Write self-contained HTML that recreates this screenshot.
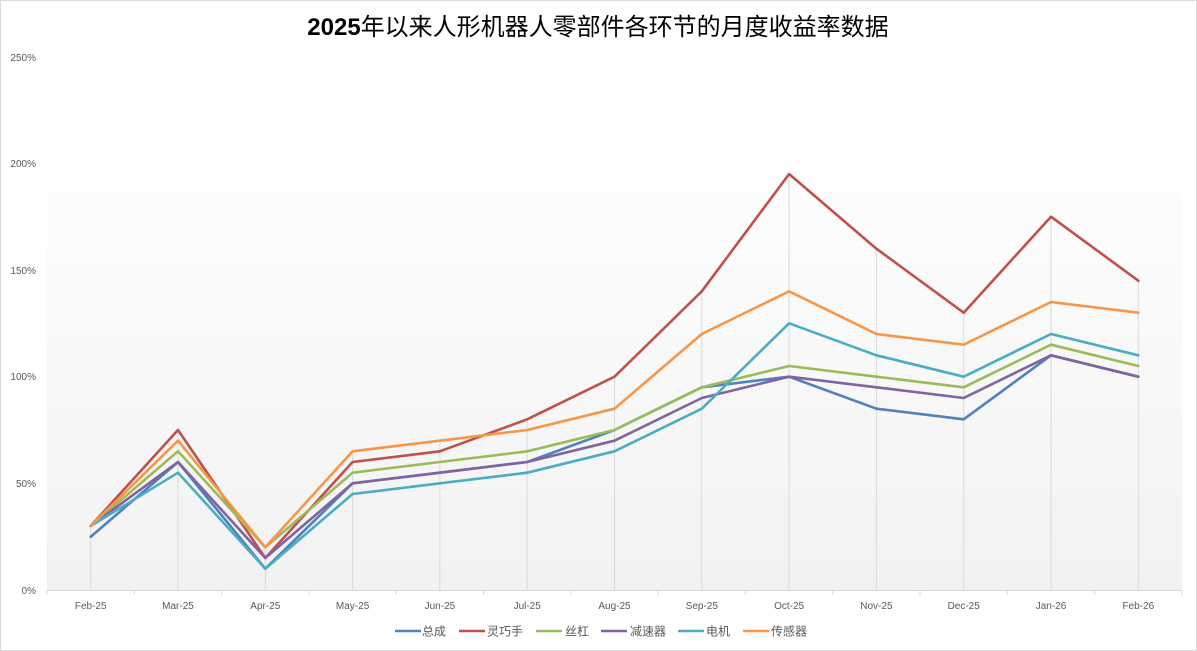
<!DOCTYPE html>
<html><head><meta charset="utf-8"><style>
html,body{margin:0;padding:0;background:#fff;}
svg{display:block;}
text{font-family:"Liberation Sans","Noto Sans CJK SC",sans-serif;}
</style></head><body>
<svg width="1197" height="651" viewBox="0 0 1197 651" xmlns="http://www.w3.org/2000/svg">
<defs>
<linearGradient id="bg" x1="0" y1="0" x2="0" y2="1">
<stop offset="0" stop-color="#ffffff"/>
<stop offset="0.1" stop-color="#ffffff"/>
<stop offset="1" stop-color="#f2f2f2"/>
</linearGradient>
</defs>
<rect x="0.5" y="0.5" width="1196" height="650" fill="#fff" stroke="#d9d9d9"/>
<rect x="47" y="57" width="1135" height="533" fill="url(#bg)"/>
<text x="598" y="35" text-anchor="middle" font-size="24" fill="#000"><tspan font-weight="bold">2025</tspan><tspan font-weight="normal">年以来人形机器人零部件各环节的月度收益率数据</tspan></text>
<g font-size="10" fill="#595959" text-anchor="end">
<text x="36" y="61">250%</text>
<text x="36" y="167">200%</text>
<text x="36" y="274">150%</text>
<text x="36" y="380">100%</text>
<text x="36" y="487">50%</text>
<text x="36" y="594">0%</text>
</g>
<g stroke="#d9d9d9" stroke-width="1">
<line x1="90.7" y1="526" x2="90.7" y2="590"/>
<line x1="178" y1="430" x2="178" y2="590"/>
<line x1="265.3" y1="547.3" x2="265.3" y2="590"/>
<line x1="352.6" y1="451.3" x2="352.6" y2="590"/>
<line x1="439.9" y1="440.7" x2="439.9" y2="590"/>
<line x1="527.2" y1="419.3" x2="527.2" y2="590"/>
<line x1="614.5" y1="376.7" x2="614.5" y2="590"/>
<line x1="701.8" y1="291.3" x2="701.8" y2="590"/>
<line x1="789.1" y1="174" x2="789.1" y2="590"/>
<line x1="876.4" y1="248.7" x2="876.4" y2="590"/>
<line x1="963.7" y1="312.7" x2="963.7" y2="590"/>
<line x1="1051" y1="216.7" x2="1051" y2="590"/>
<line x1="1138.3" y1="280.7" x2="1138.3" y2="590"/>
<line x1="47" y1="590.5" x2="1182" y2="590.5"/>
<line x1="47" y1="590" x2="47" y2="595"/>
<line x1="134.3" y1="590" x2="134.3" y2="595"/>
<line x1="221.6" y1="590" x2="221.6" y2="595"/>
<line x1="308.9" y1="590" x2="308.9" y2="595"/>
<line x1="396.2" y1="590" x2="396.2" y2="595"/>
<line x1="483.5" y1="590" x2="483.5" y2="595"/>
<line x1="570.8" y1="590" x2="570.8" y2="595"/>
<line x1="658.1" y1="590" x2="658.1" y2="595"/>
<line x1="745.4" y1="590" x2="745.4" y2="595"/>
<line x1="832.7" y1="590" x2="832.7" y2="595"/>
<line x1="920" y1="590" x2="920" y2="595"/>
<line x1="1007.3" y1="590" x2="1007.3" y2="595"/>
<line x1="1094.6" y1="590" x2="1094.6" y2="595"/>
<line x1="1181.9" y1="590" x2="1181.9" y2="595"/>
</g>
<g font-size="10" fill="#595959" text-anchor="middle">
<text x="90.7" y="609">Feb-25</text>
<text x="178" y="609">Mar-25</text>
<text x="265.3" y="609">Apr-25</text>
<text x="352.6" y="609">May-25</text>
<text x="439.9" y="609">Jun-25</text>
<text x="527.2" y="609">Jul-25</text>
<text x="614.5" y="609">Aug-25</text>
<text x="701.8" y="609">Sep-25</text>
<text x="789.1" y="609">Oct-25</text>
<text x="876.4" y="609">Nov-25</text>
<text x="963.7" y="609">Dec-25</text>
<text x="1051" y="609">Jan-26</text>
<text x="1138.3" y="609">Feb-26</text>
</g>
<g fill="none" stroke-width="2.6" stroke-linejoin="round" stroke-linecap="round">
<polyline stroke="#4f81bd" points="90.7,536.7 178,462 265.3,568.7 352.6,483.3 439.9,472.7 527.2,462 614.5,430 701.8,387.3 789.1,376.7 876.4,408.7 963.7,419.3 1051,355.3 1138.3,376.7"/>
<polyline stroke="#c0504d" points="90.7,526 178,430 265.3,558 352.6,462 439.9,451.3 527.2,419.3 614.5,376.7 701.8,291.3 789.1,174 876.4,248.7 963.7,312.7 1051,216.7 1138.3,280.7"/>
<polyline stroke="#9bbb59" points="90.7,526 178,451.3 265.3,547.3 352.6,472.7 439.9,462 527.2,451.3 614.5,430 701.8,387.3 789.1,366 876.4,376.7 963.7,387.3 1051,344.7 1138.3,366"/>
<polyline stroke="#8064a2" points="90.7,526 178,462 265.3,558 352.6,483.3 439.9,472.7 527.2,462 614.5,440.7 701.8,398 789.1,376.7 876.4,387.3 963.7,398 1051,355.3 1138.3,376.7"/>
<polyline stroke="#4bacc6" points="90.7,526 178,472.7 265.3,568.7 352.6,494 439.9,483.3 527.2,472.7 614.5,451.3 701.8,408.7 789.1,323.3 876.4,355.3 963.7,376.7 1051,334 1138.3,355.3"/>
<polyline stroke="#f79646" points="90.7,526 178,440.7 265.3,547.3 352.6,451.3 439.9,440.7 527.2,430 614.5,408.7 701.8,334 789.1,291.3 876.4,334 963.7,344.7 1051,302 1138.3,312.7"/>
</g>
<g stroke-width="2.6">
<line x1="395" y1="631" x2="421" y2="631" stroke="#4f81bd"/>
<line x1="459" y1="631" x2="485" y2="631" stroke="#c0504d"/>
<line x1="536" y1="631" x2="562" y2="631" stroke="#9bbb59"/>
<line x1="601" y1="631" x2="627" y2="631" stroke="#8064a2"/>
<line x1="678" y1="631" x2="704" y2="631" stroke="#4bacc6"/>
<line x1="743" y1="631" x2="769" y2="631" stroke="#f79646"/>
</g>
<g font-size="12" fill="#595959">
<text x="422" y="635.5">总成</text>
<text x="487" y="635.5">灵巧手</text>
<text x="565" y="635.5">丝杠</text>
<text x="630" y="635.5">减速器</text>
<text x="706" y="635.5">电机</text>
<text x="771" y="635.5">传感器</text>
</g>
</svg>
</body></html>
